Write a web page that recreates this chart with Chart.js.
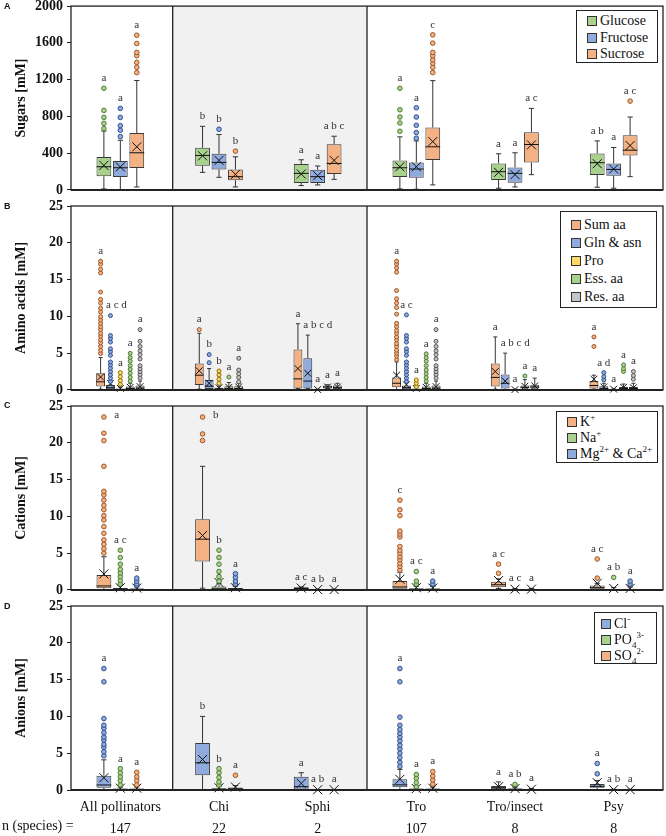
<!DOCTYPE html>
<html><head><meta charset="utf-8">
<script src="https://cdn.jsdelivr.net/npm/chart.js@4/dist/chart.umd.min.js"></script>
<style>
html,body{margin:0;padding:0;background:#fff;}
#wrap{position:relative;width:666px;height:836px;overflow:hidden;font-family:"Liberation Serif","Times New Roman",serif;color:#111;}
canvas{position:absolute;left:0;}
.plab{position:absolute;left:4px;font:bold 9px "Liberation Sans",Arial,sans-serif;line-height:9px;color:#111;}
.legend{position:absolute;background:#fff;border:1.5px solid #222;box-sizing:border-box;font:14px "Liberation Serif","Times New Roman",serif;color:#111;}
.legend .row{position:absolute;white-space:nowrap;display:flex;align-items:center;}
.sw{display:inline-block;width:8px;height:8px;border:1px solid #333;margin-right:3px;}
sup,sub{font-size:9px;line-height:0;}
.nlab{position:absolute;left:2px;top:818px;font:14px "Liberation Serif","Times New Roman",serif;}
</style></head>
<body><div id="wrap">
<canvas id="cA" width="666" height="196" style="top:0px"></canvas>
<canvas id="cB" width="666" height="200" style="top:196px"></canvas>
<canvas id="cC" width="666" height="200" style="top:396px"></canvas>
<canvas id="cD" width="666" height="240" style="top:596px"></canvas>
<div class="plab" style="top:1.5px">A</div>
<div class="plab" style="top:201.5px">B</div>
<div class="plab" style="top:400.5px">C</div>
<div class="plab" style="top:601.5px">D</div>
<div class="nlab">n (species) =</div>
</div>
<script>
// ---------------- DATA ----------------
const categories = ['All pollinators', 'Chi', 'Sphi', 'Tro', 'Tro/insect', 'Psy'];
const nSpecies = ['147', '22', '2', '107', '8', '8'];
const shadedGroups = ['Chi', 'Sphi'];
const sugarTicks = [0, 400, 800, 1200, 1600, 2000];
const ionTicks = [0, 5, 10, 15, 20, 25];

// each row: [lower whisker, Q1, median, Q3, upper whisker, mean] per category
const glucose = [[10,148,252,357,640,267],[191,263,375,458,692,371],[47,76,180,281,328,173],[11,140,241,321,577,252],[18,108,198,288,393,191],[29,162,296,396,533,285]];
const glucoseOut = [[667,724,789,865,1106],[],[],[638,728,793,872,1106],[],[]];
const glucoseLetters = ['a','b','a','a','a','a b'];
const fructose = [[0,140,241,314,540,250],[137,223,299,393,602,321],[54,76,144,220,260,155],[7,133,227,299,533,252],[32,79,180,245,404,166],[18,155,223,288,461,227]];
const fructoseOut = [[580,649,699,789,887],[660],[],[562,624,703,793,894],[],[]];
const fructoseLetters = ['a','b','a','a','a','a'];
const sucrose = [[32,238,404,620,1190,469],[32,104,144,223,360,169],[115,173,288,497,584,321],[54,324,469,678,1189,526],[166,299,494,627,887,490],[144,375,432,595,793,483]];
const sucroseOut = [[1276,1334,1388,1460,1496,1593,1683],[422],[],[1276,1334,1377,1416,1460,1496,1597,1687],[],[966]];
const sucroseLetters = ['a','b','a b c','c','a c','a c'];

const sumAa = [[0.1,0.45,1.1,2.26,4.4,1.75],[0.1,0.68,2.0,3.6,7.7,2.6],[0.2,0.2,1.5,5.5,9.0,2.9],[0.05,0.36,0.9,1.7,3.8,2.0],[0.1,0.45,1.7,3.6,7.2,2.5],[0.1,0.2,0.6,1.2,2.0,1.45]];
const sumAaOut = [[4.95,5.4,5.9,6.4,6.8,7.3,7.7,8.2,8.6,9.05,9.5,9.95,10.6,11.1,11.8,12.3,13.3,15.9,16.4,17.1,17.5],[8.2],[],[4.1,4.6,5.0,5.4,5.9,6.3,6.8,7.2,7.7,8.1,8.6,9.05,10.3,11.2,11.8,12.4,13.5,16.0,16.6,17.1,17.5],[],[5.9,7.2]];
const sumAaLetters = ['a','a','a','a','a','a'];
const glnAsn = [[0,0.1,0.3,0.68,1.05,0.9],[0.05,0.13,0.5,1.35,2.9,0.9],[0.2,0.2,1.2,4.3,7.45,2.26],[0,0.1,0.3,0.6,1.0,0.7],[0.05,0.2,0.9,2.1,5.0,1.2],[0,0.05,0.2,0.5,0.9,0.4]];
const glnAsnOut = [[1.15,1.6,2.05,2.5,2.95,3.4,3.8,4.7,5.2,5.6,6.5,7.0,7.4,10.1],[3.7,4.8],[],[1.15,1.6,2.05,2.5,2.95,3.4,3.8,4.7,5.2,5.6,6.5,7.0,7.4,10.2],[],[1.35,1.8,2.35]];
const glnAsnLetters = ['a c d','b','a b c d','a c','a b c d','a d'];
const pro = [[0,0,0.05,0.2,0.4,0.2],[0,0,0.1,0.3,0.5,0.3],[0,0,0,0.05,0.1,0.05],[0,0,0.05,0.2,0.4,0.2],[0,0,0,0.05,0.1,0.05],[0,0,0,0.05,0.15,0.1]];
const proOut = [[0.77,1.26,1.8,2.35],[0.9,1.45,2.03,2.57],[],[0.45,0.9,1.35],[],[]];
const proLetters = ['a','b','a','a','a','a'];
const essAa = [[0,0.1,0.2,0.45,0.9,0.35],[0,0.1,0.2,0.5,1.0,0.35],[0.2,0.2,0.4,0.6,0.7,0.4],[0,0.1,0.2,0.45,0.9,0.35],[0.1,0.2,0.35,0.6,1.4,0.5],[0,0.1,0.2,0.4,0.8,0.35]];
const essAaOut = [[1.2,1.7,2.26,2.8,3.3,3.9,4.4,4.97],[1.75],[],[1.2,1.7,2.2,2.7,3.3,3.9,4.4,4.9],[1.9],[2.5,2.9,3.4]];
const essAaLetters = ['a','a','a','a','a','a'];
const resAa = [[0,0.1,0.25,0.6,1.2,0.45],[0,0.05,0.2,0.5,0.9,0.4],[0.1,0.1,0.3,0.6,0.9,0.4],[0,0.1,0.25,0.6,1.2,0.45],[0.1,0.2,0.4,0.7,1.6,0.55],[0,0.1,0.2,0.4,0.9,0.3]];
const resAaOut = [[1.6,2.1,2.5,2.9,3.3,4.2,4.8,5.3,5.9,6.6,8.2],[1.1,1.7,2.2,2.7,4.3],[],[1.6,2.1,2.5,2.9,3.3,4.2,4.8,5.3,5.9,6.6,8.2],[],[1.45,1.95,2.5]];
const resAaLetters = ['a','a','a','a','a','a'];

const potassium = [[0,0.23,0.54,2.03,4.5,2.17],[0.23,3.85,6.9,9.6,16.8,7.4],[0.05,0.05,0.2,0.35,0.4,0.25],[0,0.14,0.4,1.2,2.4,1.45],[0.2,0.36,0.7,1.1,1.5,1.27],[0.05,0.14,0.3,0.6,0.9,0.9]];
const potassiumOut = [[5.0,5.6,6.2,6.8,7.7,8.6,9.5,10.1,10.9,11.5,12.2,12.9,13.4,16.8,20.3,21.3,23.5],[20.3,21.2,23.5],[],[2.7,3.2,3.6,4.1,4.5,5.0,5.4,5.9,7.2,7.6,8.0,10.1,10.9,12.2],[2.26,3.5],[1.6,4.2]];
const potassiumLetters = ['a','b','a c','c','a c','a c'];
const sodium = [[0,0.02,0.1,0.25,0.6,0.3],[0,0.05,0.15,0.45,0.9,1.0],[0,0,0.02,0.05,0.1,0.05],[0,0.02,0.1,0.2,0.5,0.3],[0,0,0.05,0.1,0.2,0.1],[0,0,0.05,0.1,0.3,0.2]];
const sodiumOut = [[0.8,1.3,1.8,2.3,2.8,3.5,4.4,5.4],[1.2,1.8,2.5,3.5,4.4,5.4],[],[0.8,1.2,2.5],[],[1.7]];
const sodiumLetters = ['a c','b','a b','a c','a c','a b'];
const mgCa = [[0,0.02,0.08,0.2,0.4,0.25],[0,0.02,0.1,0.25,0.5,0.3],[0,0,0.02,0.05,0.1,0.05],[0,0.02,0.08,0.2,0.5,0.25],[0,0,0.05,0.1,0.2,0.1],[0,0.02,0.05,0.15,0.4,0.2]];
const mgCaOut = [[0.6,0.8,1.2,1.6],[0.8,1.2,1.7,2.2],[],[0.8,1.2],[],[0.8,1.2]];
const mgCaLetters = ['a','a','a','a','a','a'];

const chloride = [[0,0.32,0.68,1.95,4.1,1.67],[0,2.0,3.7,6.4,10.0,4.15],[0,0,0.45,1.8,2.35,0.9],[0,0.36,0.7,1.45,2.8,1.45],[0,0.1,0.3,0.54,1.1,0.45],[0,0.3,0.5,0.8,1.3,1.0]];
const chlorideOut = [[4.65,5.2,5.8,6.2,6.8,7.2,7.8,8.4,8.8,9.7,14.7,16.5],[],[],[3.2,3.75,4.4,5.0,5.6,6.1,6.7,7.2,7.7,8.2,8.8,9.9,14.7,16.5],[],[2.2,3.6]];
const chlorideLetters = ['a','b','a','a','a','a'];
const phosphate = [[0,0.02,0.08,0.2,0.4,0.25],[0,0.05,0.1,0.25,0.5,0.3],[0,0,0.02,0.04,0.06,0.04],[0,0.02,0.08,0.2,0.3,0.2],[0,0,0.1,0.2,0.4,0.2],[0,0,0.02,0.05,0.1,0.05]];
const phosphateOut = [[0.7,1.3,1.8,2.35,2.9],[0.68,1.1,1.7,2.35,2.9],[],[0.45,1.0,1.6,2.1],[0.77],[]];
const phosphateLetters = ['a','b','a b','a','a b','a b'];
const sulfate = [[0,0.02,0.08,0.2,0.4,0.25],[0,0.05,0.15,0.35,0.6,0.4],[0,0,0.02,0.04,0.06,0.04],[0,0.02,0.08,0.2,0.4,0.25],[0,0,0.05,0.1,0.2,0.1],[0,0,0.02,0.05,0.1,0.05]];
const sulfateOut = [[0.7,1.3,1.8,2.4],[2.0],[],[0.8,1.36,1.9,2.5],[],[]];
const sulfateLetters = ['a','a','a','a','a','a'];

const sugarNames = ['Glucose', 'Fructose', 'Sucrose'];
const aminoNames = ['Sum aa', 'Gln &amp; asn', 'Pro', 'Ess. aa', 'Res. aa'];
const cationNames = ['K<sup>+</sup>', 'Na<sup>+</sup>', 'Mg<sup>2+</sup> &amp; Ca<sup>2+</sup>'];
const anionNames = ['Cl<sup>-</sup>', 'PO<sub>4</sub><sup>3-</sup>', 'SO<sub>4</sub><sup>2-</sup>'];

// ---------------- STYLE ----------------
const COL = {
  green: ['#a9d18e', '#4f7a34'], blue: ['#8faadc', '#2f4f8a'], orange: ['#f4b183', '#9a5527'],
  yellow: ['#ffd966', '#8a6d00'], gray: ['#c4c4c4', '#555555']
};
const SERIF = '"Liberation Serif","Times New Roman",serif';

function shadeBounds(x) {
  const idx = shadedGroups.map(g => categories.indexOf(g));
  const half = (x.getPixelForValue(1) - x.getPixelForValue(0)) / 2;
  return [x.getPixelForValue(Math.min(...idx)) - half + 3, x.getPixelForValue(Math.max(...idx)) + half];
}

const boxPlugin = {
  id: 'boxExtras',
  beforeDatasetsDraw(chart) {
    const {ctx, chartArea: a, scales: {x}} = chart;
    const [x0, x1] = shadeBounds(x);
    ctx.save();
    ctx.fillStyle = '#f1f1f1';
    ctx.fillRect(x0, a.top, x1 - x0, a.bottom - a.top);
    ctx.restore();
  },
  afterDatasetsDraw(chart) {
    const {ctx, chartArea: a, scales: {y}} = chart;
    const py = v => y.getPixelForValue(v);
    ctx.save();
    chart.data.datasets.forEach((ds, i) => {
      const meta = chart.getDatasetMeta(i);
      meta.data.forEach((el, j) => {
        const [wlo, q1, med, q3, whi, mean] = ds.stats[j];
        const cx = el.x, w = el.width;
        const cw = Math.max(2, w * 0.18);
        ctx.strokeStyle = '#333'; ctx.lineWidth = 1;
        ctx.beginPath();
        ctx.moveTo(cx, py(q3)); ctx.lineTo(cx, py(whi));
        ctx.moveTo(cx - cw, py(whi)); ctx.lineTo(cx + cw, py(whi));
        ctx.moveTo(cx, py(q1)); ctx.lineTo(cx, py(wlo));
        ctx.moveTo(cx - cw, py(wlo)); ctx.lineTo(cx + cw, py(wlo));
        ctx.stroke();
        ctx.strokeStyle = '#111';
        ctx.beginPath();
        ctx.moveTo(cx - w / 2, py(med)); ctx.lineTo(cx + w / 2, py(med));
        const s = Math.min(4.5, w * 0.38);
        const my = py(mean);
        ctx.moveTo(cx - s, my - s); ctx.lineTo(cx + s, my + s);
        ctx.moveTo(cx - s, my + s); ctx.lineTo(cx + s, my - s);
        ctx.stroke();
        const outs = ds.outliers[j];
        const r = w > 12 ? 2.3 : 2.0;
        ctx.fillStyle = ds.backgroundColor; ctx.strokeStyle = ds.outlierColor; ctx.lineWidth = 1;
        outs.forEach(v => {
          ctx.beginPath(); ctx.arc(cx, py(v), r, 0, Math.PI * 2); ctx.fill(); ctx.stroke();
        });
        const top = Math.max(whi, q3, mean, ...outs);
        const lab = ds.letters[j];
        if (lab) {
          ctx.fillStyle = '#333';
          ctx.font = '11px ' + SERIF;
          ctx.textBaseline = 'middle';
          const ly = py(top) - 10;
          const tw = ctx.measureText(lab).width;
          if (ly < a.top + 5) {
            ctx.textAlign = 'left';
            ctx.fillText(lab, cx + w / 2 + 3, py(top) - 2);
          } else if (w < 12 && tw > 1.6 * w) {
            ctx.textAlign = 'left';
            ctx.fillText(lab, cx - w / 2, ly);
          } else {
            ctx.textAlign = 'center';
            ctx.fillText(lab, cx, ly);
          }
        }
      });
    });
    ctx.restore();
  },
  afterDraw(chart) {
    const {ctx, chartArea: a, scales: {x}} = chart;
    const [x0, x1] = shadeBounds(x);
    ctx.save();
    ctx.strokeStyle = '#222';
    ctx.lineWidth = 1.3;
    ctx.strokeRect(a.left, a.top, a.right - a.left, a.bottom - a.top);
    ctx.beginPath();
    ctx.moveTo(x0, a.top); ctx.lineTo(x0, a.bottom);
    ctx.moveTo(x1, a.top); ctx.lineTo(x1, a.bottom);
    ctx.stroke();
    ctx.lineWidth = 2;
    ctx.beginPath(); ctx.moveTo(a.left, a.bottom); ctx.lineTo(a.right, a.bottom); ctx.stroke();
    ctx.restore();
  }
};

function makeSeries(name, color, stats, outliers, letters) {
  return {
    label: name.replace(/<[^>]+>/g, '').replace('&amp;', '&'),
    data: stats.map(r => [r[1], r[3]]),
    stats, outliers, letters,
    backgroundColor: COL[color][0], outlierColor: COL[color][1],
    borderColor: '#3a3a3a', borderWidth: 1, borderSkipped: false,
    barPercentage: 0.9, categoryPercentage: 0.5
  };
}

function makePanel(id, title, ticks, series, padTop, padBottom, showX) {
  const labels = showX ? categories.map((c, i) => [c, nSpecies[i]]) : categories;
  const xScale = {
    display: showX, grid: {display: false}, border: {display: false},
    ticks: {font: {family: SERIF, size: 14, lineHeight: 22 / 14}, color: '#111', padding: -2, maxRotation: 0, autoSkip: false}
  };
  if (showX) xScale.afterFit = s => { s.height = 46; };
  return new Chart(document.getElementById(id), {
    type: 'bar',
    data: {labels, datasets: series},
    options: {
      responsive: false, animation: false, devicePixelRatio: 1,
      layout: {padding: {left: 0, right: 3, top: padTop, bottom: padBottom}},
      plugins: {legend: {display: false}, tooltip: {enabled: false}},
      scales: {
        x: xScale,
        y: {
          min: ticks[0], max: ticks[ticks.length - 1],
          afterBuildTicks: s => { s.ticks = ticks.map(v => ({value: v})); },
          grid: {display: true, drawOnChartArea: false, drawTicks: true, tickLength: 4, color: '#222'},
          border: {display: false},
          ticks: {font: {family: SERIF, size: 14, weight: 'bold', lineHeight: 0.3}, color: '#111', padding: 4, callback: v => String(v)},
          title: {display: true, text: title, font: {family: SERIF, size: 14, weight: 'bold'}, color: '#111', padding: {top: 13, bottom: 0}},
          afterFit: s => { s.width = 71; }
        }
      }
    },
    plugins: [boxPlugin]
  });
}

function makeLegend(left, top, width, height, padTop, rowH, swLeft, names, colors) {
  const d = document.createElement('div');
  d.className = 'legend';
  Object.assign(d.style, {left: left + 'px', top: top + 'px', width: width + 'px', height: height + 'px'});
  names.forEach((n, i) => {
    const r = document.createElement('div');
    r.className = 'row';
    Object.assign(r.style, {left: swLeft + 'px', top: (padTop + i * rowH) + 'px', height: rowH + 'px'});
    r.innerHTML = '<span class="sw" style="background:' + COL[colors[i]][0] + '"></span><span>' + n + '</span>';
    d.appendChild(r);
  });
  document.getElementById('wrap').appendChild(d);
}

makePanel('cA', 'Sugars [mM]', sugarTicks, [
  makeSeries(sugarNames[0], 'green', glucose, glucoseOut, glucoseLetters),
  makeSeries(sugarNames[1], 'blue', fructose, fructoseOut, fructoseLetters),
  makeSeries(sugarNames[2], 'orange', sucrose, sucroseOut, sucroseLetters)
], 5, 6, false);
makePanel('cB', 'Amino acids [mM]', ionTicks, [
  makeSeries(aminoNames[0], 'orange', sumAa, sumAaOut, sumAaLetters),
  makeSeries(aminoNames[1], 'blue', glnAsn, glnAsnOut, glnAsnLetters),
  makeSeries(aminoNames[2], 'yellow', pro, proOut, proLetters),
  makeSeries(aminoNames[3], 'green', essAa, essAaOut, essAaLetters),
  makeSeries(aminoNames[4], 'gray', resAa, resAaOut, resAaLetters)
], 10, 6, false);
makePanel('cC', 'Cations [mM]', ionTicks, [
  makeSeries(cationNames[0], 'orange', potassium, potassiumOut, potassiumLetters),
  makeSeries(cationNames[1], 'green', sodium, sodiumOut, sodiumLetters),
  makeSeries(cationNames[2], 'blue', mgCa, mgCaOut, mgCaLetters)
], 10, 6, false);
makePanel('cD', 'Anions [mM]', ionTicks, [
  makeSeries(anionNames[0], 'blue', chloride, chlorideOut, chlorideLetters),
  makeSeries(anionNames[1], 'green', phosphate, phosphateOut, phosphateLetters),
  makeSeries(anionNames[2], 'orange', sulfate, sulfateOut, sulfateLetters)
], 10, 0, true);

makeLegend(576, 10, 82, 53, 2, 16.5, 10, sugarNames, ['green', 'blue', 'orange']);
makeLegend(560, 211, 97, 97, 3.5, 18, 10, aminoNames, ['orange', 'blue', 'yellow', 'green', 'gray']);
makeLegend(556, 411, 102, 52, 1.5, 16, 10, cationNames, ['orange', 'green', 'blue']);
makeLegend(594, 612, 63, 52, 2.5, 16, 6, anionNames, ['blue', 'green', 'orange']);
</script>
</body></html>
